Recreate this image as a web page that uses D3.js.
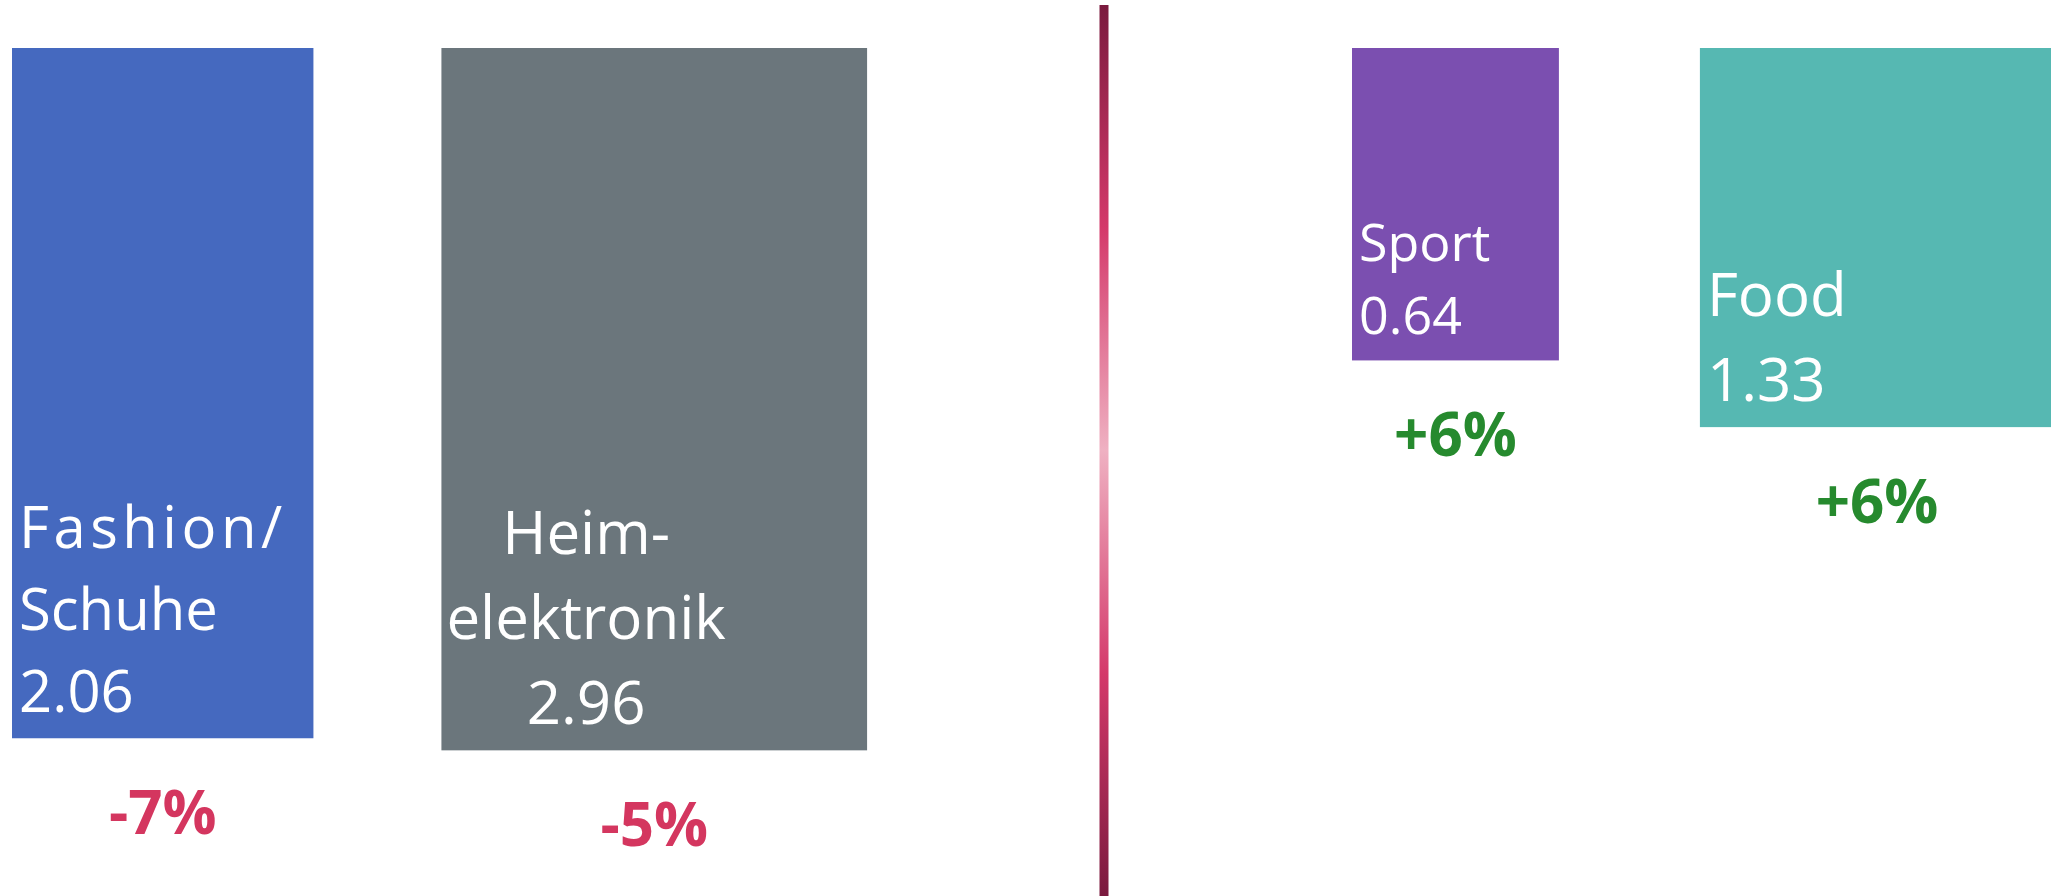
<!DOCTYPE html>
<html>
<head>
<meta charset="utf-8">
<script src="https://cdn.jsdelivr.net/npm/d3@7"></script>
<style>
  html, body { margin: 0; padding: 0; background: #ffffff; }
  .container { width: 2051px; height: 896px; overflow: hidden; }
  text { font-family: "Open Sans", "Noto Sans", sans-serif; }
</style>
</head>
<body>
<div class="container"></div>
<script>
// values
var categories = ["Fashion/Schuhe", "Heimelektronik", "Sport", "Food"];
var labelLines = [["Fashion/", "Schuhe"], ["Heim-", "elektronik"], ["Sport"], ["Food"]];
var values = [2.06, 2.96, 0.64, 1.33];
var growth = [-7, -5, 6, 6];
var groups = ["decline", "decline", "growth", "growth"];
// height / width of each tile as drawn
var tileShape = [2.29, 1.65, 1.51, 1.07];

const WIDTH = 2051;
const HEIGHT = 896;
const TOP = 48;
const DIVIDER_X = 1104;
const PANEL_START = { decline: 12, growth: 1352 };
const PANEL_GAP = { decline: 128, growth: 141 };

var tileColor = d3.scaleOrdinal()
    .domain(categories)
    .range(["#4569bf", "#6b767c", "#7b4fb0", "#56b8b2"]);

var growthColor = d3.scaleThreshold()
    .domain([0])
    .range(["#d4365f", "#268a2e"]);

// tile area is proportional to the value
var areaScale = d3.scaleLinear()
    .domain([0, 1])
    .range([0, 101000]);

// per tile text styling
var labelStyle = {
    "Fashion/Schuhe": { size: 58, anchor: "start", pos: 0, spacing: [4.5, 0] },
    "Heimelektronik": { size: 60, anchor: "middle", pos: 0.34, spacing: [0, 0] },
    "Sport": { size: 52, anchor: "start", pos: 0, spacing: [0, 0] },
    "Food": { size: 60, anchor: "start", pos: 0, spacing: [0, 0] }
};

var translate = function(x, y){
    return "translate(" + x + "," + y + ")";
};

var buildTiles = function(){
    var cursor = { decline: PANEL_START.decline, growth: PANEL_START.growth };
    return categories.map(function(name, i){
        var area = areaScale(values[i]);
        var w = Math.sqrt(area / tileShape[i]);
        var h = w * tileShape[i];
        var g = groups[i];
        var tile = { name: name, lines: labelLines[i], value: values[i], growth: growth[i],
                     x: cursor[g], y: TOP, w: w, h: h };
        cursor[g] += w + PANEL_GAP[g];
        return tile;
    });
};

var formatGrowth = function(g){
    return (g > 0 ? "+" : "-") + Math.abs(g) + "%";
};

var drawDivider = function(svg){
    var grad = svg.append("defs").append("linearGradient")
        .attr("id", "dividerGrad")
        .attr("x1", 0).attr("y1", 0).attr("x2", 0).attr("y2", 1);
    var stops = [[0, "#7a1a3e"], [0.25, "#d4396a"], [0.5, "#efb1c2"], [0.75, "#d4396a"], [1, "#7a1a3e"]];
    grad.selectAll("stop")
        .data(stops)
        .enter()
        .append("stop")
        .attr("offset", function(d){ return d[0]; })
        .attr("stop-color", function(d){ return d[1]; });

    svg.append("rect")
        .attr("x", DIVIDER_X - 4.5)
        .attr("y", 5)
        .attr("width", 9)
        .attr("height", HEIGHT - 5)
        .attr("fill", "url(#dividerGrad)");
};

var drawTiles = function(svg, tiles){
    var tile = svg.append("g").selectAll("g")
        .data(tiles)
        .enter()
        .append("g")
        .attr("transform", function(d){ return translate(d.x, d.y); });

    tile.append("rect")
        .attr("width", function(d){ return d.w; })
        .attr("height", function(d){ return d.h; })
        .attr("fill", function(d){ return tileColor(d.name); });

    tile.each(function(d){
        var st = labelStyle[d.name];
        var lines = d.lines.concat([d.value.toFixed(2)]);
        var lineH = st.size * 1.42;
        var lastBase = d.h - 26;
        var tx = st.anchor === "middle" ? d.w * st.pos : 7;
        d3.select(this).selectAll("text.lbl")
            .data(lines)
            .enter()
            .append("text")
            .classed("lbl", true)
            .attr("x", tx)
            .attr("y", function(t, j){ return lastBase - (lines.length - 1 - j) * lineH; })
            .attr("text-anchor", st.anchor)
            .attr("fill", "#ffffff")
            .style("font-size", st.size + "px")
            .style("letter-spacing", function(t, j){ return (st.spacing[j] || 0) + "px"; })
            .text(function(t){ return t; });
    });

    tile.append("text")
        .attr("x", function(d){ return d.w / 2; })
        .attr("y", function(d){ return d.h + 96; })
        .attr("text-anchor", "middle")
        .attr("fill", function(d){ return growthColor(d.growth); })
        .style("font-size", "60px")
        .style("font-weight", "bold")
        .text(function(d){ return formatGrowth(d.growth); });
};

var loadChart = function(){
    var svg = d3.select(".container").append("svg")
        .attr("width", WIDTH)
        .attr("height", HEIGHT);

    drawDivider(svg);
    drawTiles(svg, buildTiles());
};

window.onload = loadChart;
</script>
</body>
</html>
